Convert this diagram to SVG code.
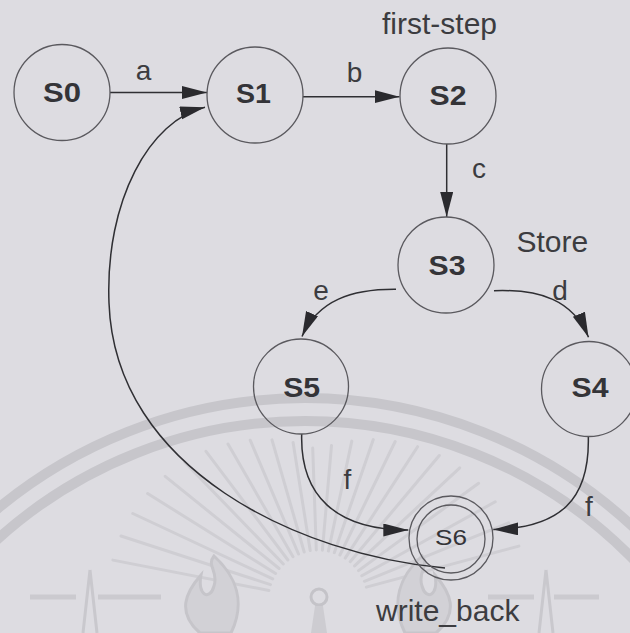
<svg xmlns="http://www.w3.org/2000/svg" width="630" height="633" viewBox="0 0 630 633">
  <style>
    .st circle { fill: none; stroke: #5a595e; stroke-width: 1.3; }
    .nm { font-family: "Liberation Sans", Arial, sans-serif; font-weight: bold; font-size: 27px; fill: #343438; text-anchor: middle; }
    .lbl { font-family: "Liberation Sans", Arial, sans-serif; font-size: 28px; fill: #3c3c40; text-anchor: middle; }
    .word { font-family: "Liberation Sans", Arial, sans-serif; font-size: 30px; fill: #3c3c40; }
    .edge { fill: none; stroke: #2f2f33; stroke-width: 1.5; }
    .band { fill: none; stroke: #c7c6cb; stroke-width: 10; }
    .ray { stroke: #cfced3; stroke-width: 3; stroke-linecap: round; }
    .bar { stroke: #cbcacf; stroke-width: 5; }
    .mark { fill: #d2d1d6; stroke: #c6c5ca; stroke-width: 3; }
  </style>
  <defs>
    <marker id="arrow" markerUnits="userSpaceOnUse" markerWidth="26" markerHeight="14" refX="25" refY="6.5" orient="auto">
      <path d="M0,0 L25,6.5 L0,13 Z" fill="#2a2a2e"/>
    </marker>
  </defs>

  <!-- paper -->
  <rect width="630" height="633" fill="#dddce1"/>

  <!-- faint emblem printed behind the chart -->
  <g id="watermark">
    <circle class="band" cx="305" cy="880" r="482"/>
    <circle class="band" cx="305" cy="880" r="459"/>
    <g class="ray">
      <line x1="366.3" y1="587.1" x2="518.9" y2="546.1"/>
      <line x1="364.4" y1="581.3" x2="508.6" y2="522.9"/>
      <line x1="361.8" y1="575.8" x2="495.2" y2="501.8"/>
      <line x1="358.5" y1="570.6" x2="478.6" y2="483.3"/>
      <line x1="354.6" y1="565.9" x2="459.7" y2="467.8"/>
      <line x1="350.2" y1="561.7" x2="439.3" y2="455.5"/>
      <line x1="345.2" y1="558.1" x2="417.6" y2="446.7"/>
      <line x1="339.9" y1="555" x2="395.2" y2="441.5"/>
      <line x1="334.3" y1="552.7" x2="373.3" y2="439.6"/>
      <line x1="328.4" y1="551.1" x2="351.8" y2="441.1"/>
      <line x1="322.4" y1="550.2" x2="331.5" y2="445.4"/>
      <line x1="316.3" y1="550" x2="312.7" y2="448"/>
      <line x1="310.2" y1="550.6" x2="293.1" y2="442.5"/>
      <line x1="304.2" y1="552" x2="272" y2="439.9"/>
      <line x1="298.5" y1="554" x2="250.2" y2="440.2"/>
      <line x1="293" y1="556.7" x2="228" y2="444.1"/>
      <line x1="287.9" y1="560" x2="206" y2="451.3"/>
      <line x1="283.3" y1="564" x2="184.8" y2="462.2"/>
      <line x1="279.1" y1="568.5" x2="165.2" y2="476.3"/>
      <line x1="275.6" y1="573.5" x2="147.6" y2="493.5"/>
      <line x1="272.7" y1="578.9" x2="132.8" y2="513.5"/>
      <line x1="270.5" y1="584.6" x2="121" y2="536"/>
      <line x1="268.9" y1="590.5" x2="112.9" y2="560.1"/>
    </g>
    <circle cx="319" cy="597" r="8" fill="none" stroke="#c4c3c8" stroke-width="3"/>
    <path d="M315,606 L323,606 L327,633 L311,633 Z" fill="#cdccd1"/>
    <g class="bar">
      <line x1="30" y1="597" x2="76" y2="597"/>
      <line x1="98" y1="597" x2="161" y2="597"/>
      <line x1="488" y1="597" x2="534" y2="597"/>
      <line x1="554" y1="597" x2="599" y2="597"/>
    </g>
    <path class="mark" d="M200,633 C176,612 186,592 201,575 C197,596 210,601 214,586 C219,571 206,566 214,556 C236,576 246,602 231,633 Z"/>
    <path class="mark" d="M436,633 C460,612 450,592 435,575 C439,596 426,601 422,586 C417,571 430,566 422,556 C400,576 390,602 405,633 Z"/>
    <path d="M90,570 L83,633 M90,570 L97,633 M546,570 L539,633 M546,570 L553,633" stroke="#c9c8cd" stroke-width="3" fill="none"/>
  </g>

  <!-- transitions -->
  <g id="connectors">
    <path class="edge" d="M110,92.5 L207,92.5" marker-end="url(#arrow)"/>
    <path class="edge" d="M303,96.7 L399.5,96.7" marker-end="url(#arrow)"/>
    <path class="edge" d="M446.7,144 L446.7,217" marker-end="url(#arrow)"/>
    <path class="edge" d="M396,289.3 C352,289 318,300 302,336.5" marker-end="url(#arrow)"/>
    <path class="edge" d="M494,290.7 C540,289 573,300 588.5,337.3" marker-end="url(#arrow)"/>
    <path class="edge" d="M301.7,434 C300,495 335,530 408.3,530" marker-end="url(#arrow)"/>
    <path class="edge" d="M588.3,436 C590,500 560,528 493.3,529.5" marker-end="url(#arrow)"/>
    <path class="edge" d="M445,568 C300,555 115,470 109,303 C105,200 150,120 205,107.3" marker-end="url(#arrow)"/>
    <text class="lbl" x="143.5" y="80">a</text>
    <text class="lbl" x="354.5" y="81.5">b</text>
    <text class="lbl" x="479" y="178">c</text>
    <text class="lbl" x="560" y="300">d</text>
    <text class="lbl" x="321" y="300">e</text>
    <text class="lbl" x="347.5" y="489">f</text>
    <text class="lbl" x="589" y="516">f</text>
  </g>

  <!-- states -->
  <g id="S0" class="st">
    <circle cx="62" cy="92.5" r="48"/>
    <text class="nm" x="62" y="101.7" textLength="38" lengthAdjust="spacingAndGlyphs">S0</text>
  </g>
  <g id="S1" class="st">
    <circle cx="255" cy="95" r="48"/>
    <text class="nm" x="253.5" y="103.3" textLength="35" lengthAdjust="spacingAndGlyphs">S1</text>
  </g>
  <g id="S2" class="st">
    <circle cx="448" cy="96" r="48"/>
    <text class="nm" x="448" y="105" textLength="37" lengthAdjust="spacingAndGlyphs">S2</text>
    <text class="word" x="382" y="34.3">first-step</text>
  </g>
  <g id="S3" class="st">
    <circle cx="446" cy="265" r="48"/>
    <text class="nm" x="447" y="275" textLength="37" lengthAdjust="spacingAndGlyphs">S3</text>
    <text class="word" x="516.5" y="251.7">Store</text>
  </g>
  <g id="S4" class="st">
    <circle cx="589" cy="389" r="47.5"/>
    <text class="nm" x="590" y="396.7" textLength="37" lengthAdjust="spacingAndGlyphs">S4</text>
  </g>
  <g id="S5" class="st">
    <circle cx="301" cy="386.5" r="47.5"/>
    <text class="nm" x="301.7" y="396.7" textLength="37" lengthAdjust="spacingAndGlyphs">S5</text>
  </g>
  <g id="S6" class="st">
    <circle cx="451" cy="538" r="42"/>
    <circle cx="451" cy="539" r="34"/>
    <text class="nm" x="451" y="545" style="font-weight:normal;font-size:22px" textLength="32" lengthAdjust="spacingAndGlyphs">S6</text>
    <text class="word" x="376" y="621">write_back</text>
  </g>
</svg>
